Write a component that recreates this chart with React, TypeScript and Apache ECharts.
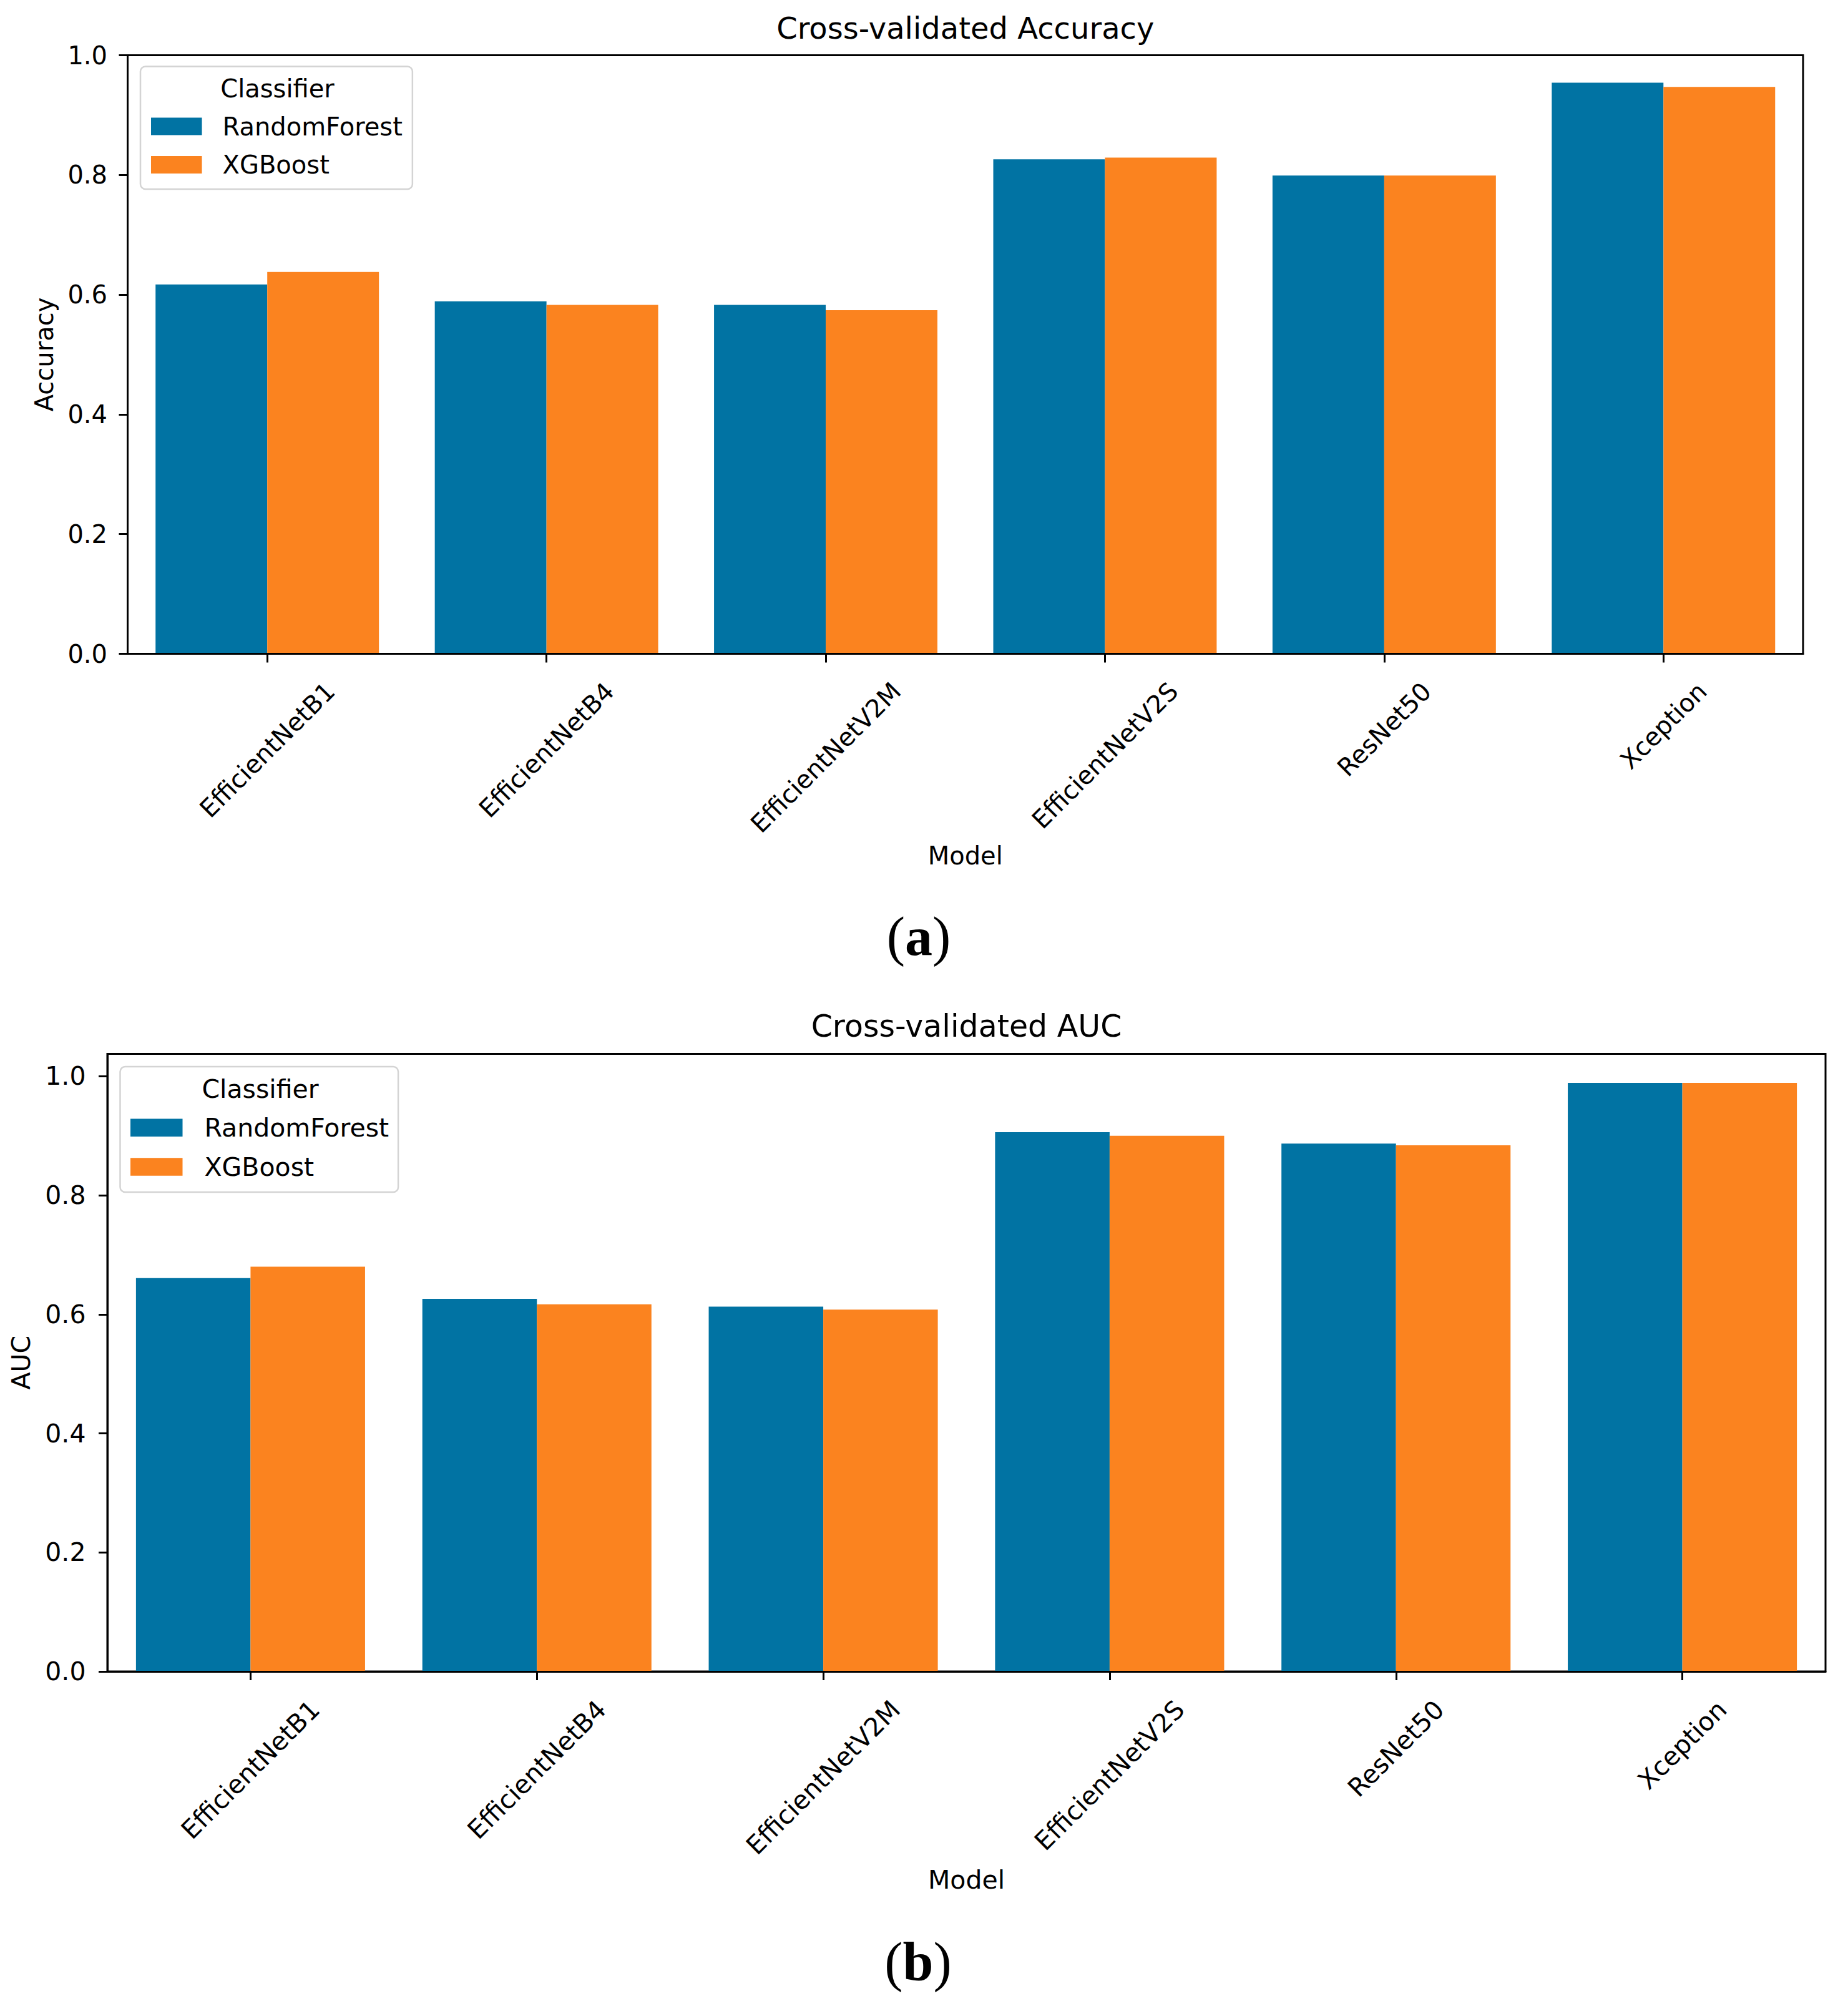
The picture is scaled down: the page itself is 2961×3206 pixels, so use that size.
import React, { useEffect, useRef } from "react";
import * as echarts from "echarts";

// ---------- data ----------
const models = [
  "EfficientNetB1",
  "EfficientNetB4",
  "EfficientNetV2M",
  "EfficientNetV2S",
  "ResNet50",
  "Xception",
];
const classifiers = ["RandomForest", "XGBoost"];
const accuracyRF = [0.617, 0.589, 0.583, 0.826, 0.799, 0.954];
const accuracyXGB = [0.638, 0.583, 0.574, 0.829, 0.799, 0.947];
const aucRF = [0.661, 0.626, 0.613, 0.906, 0.887, 0.989];
const aucXGB = [0.68, 0.617, 0.608, 0.9, 0.884, 0.989];
const yTicks = [0, 0.2, 0.4, 0.6, 0.8, 1.0];
const accuracyMax = 1.0;
const aucMax = 1.0377;

// ---------- style ----------
const BLUE = "#0173a3";
const ORANGE = "#fb831f";
const FONT = "DejaVu Sans";
const SERIF = "Liberation Serif";
const INK = "#000000";

let measureCtx: CanvasRenderingContext2D | null = null;
function textWidth(s: string, size: number) {
  if (!measureCtx) measureCtx = document.createElement("canvas").getContext("2d");
  if (!measureCtx) return s.length * size * 0.6;
  measureCtx.font = `${size}px "${FONT}"`;
  return measureCtx.measureText(s).width;
}

type Panel = {
  title: string;
  yName: string;
  rf: number[];
  xgb: number[];
  yMax: number;
  left: number;
  top: number;
  right: number;
  bottom: number;
  font: number;
  titleFont: number;
  titleY: number;
  xNameGap: number;
  yNameGap: number;
  yLabelMargin: number;
  xLabelMargin: number;
  legend: {
    left: number;
    top: number;
    itemW: number;
    itemH: number;
    gap: number;
    padding: number[];
    textPad: number;
    titleX: number;
    titleY: number;
  };
  tag: string;
  tagX: number;
  tagY: number;
};

const panels: Panel[] = [
  {
    title: "Cross-validated Accuracy",
    yName: "Accuracy",
    rf: accuracyRF,
    xgb: accuracyXGB,
    yMax: accuracyMax,
    left: 204.5,
    top: 88.5,
    right: 2889,
    bottom: 1047.5,
    font: 40,
    titleFont: 48,
    titleY: 45,
    xNameGap: 323.5,
    yNameGap: 134,
    yLabelMargin: 32.5,
    xLabelMargin: 53,
    legend: {
      left: 225,
      top: 106.5,
      itemW: 81.5,
      itemH: 28,
      gap: 21.5,
      padding: [76, 16, 19, 17],
      textPad: 28,
      titleX: 444.5,
      titleY: 141.5,
    },
    tag: "a",
    tagX: 1472,
    tagY: 1500,
  },
  {
    title: "Cross-validated AUC",
    yName: "AUC",
    rf: aucRF,
    xgb: aucXGB,
    yMax: aucMax,
    left: 172,
    top: 1688.5,
    right: 2925,
    bottom: 2678,
    font: 41,
    titleFont: 49,
    titleY: 1644,
    xNameGap: 334,
    yNameGap: 138,
    yLabelMargin: 34.5,
    xLabelMargin: 54,
    legend: {
      left: 192.5,
      top: 1709,
      itemW: 83.5,
      itemH: 28.5,
      gap: 21.75,
      padding: [77.25, 15, 20, 16.5],
      textPad: 30,
      titleX: 417,
      titleY: 1745,
    },
    tag: "b",
    tagX: 1471,
    tagY: 3143,
  },
];

function buildOption() {
  const grid: any[] = [];
  const xAxis: any[] = [];
  const yAxis: any[] = [];
  const series: any[] = [];
  const legend: any[] = [];
  const graphic: any[] = [];

  panels.forEach((p, i) => {
    grid.push({
      left: p.left,
      top: p.top,
      width: p.right - p.left,
      height: p.bottom - p.top,
      show: true,
      borderColor: INK,
      borderWidth: 3,
      backgroundColor: "#ffffff",
      containLabel: false,
      outerBoundsMode: "none",
    });

    xAxis.push({
      type: "category",
      gridIndex: i,
      z: 5,
      // Rotated labels centred under their tick (matplotlib style):
      // shift back along the text by w/4 and down across it by w/4.
      data: models.map((m) => {
        const w = textWidth(m, p.font);
        return {
          value: m,
          textStyle: {
            align: "center",
            verticalAlign: "top",
            lineHeight: w / 2,
            padding: [0, w / 2, 0, 0],
          },
        };
      }),
      boundaryGap: true,
      name: "Model",
      nameLocation: "middle",
      nameGap: p.xNameGap,
      nameMoveOverlap: false,
      nameTextStyle: {
        fontFamily: FONT,
        fontSize: p.font,
        color: INK,
        verticalAlign: "middle",
      },
      axisLine: { show: true, lineStyle: { color: INK, width: 3 } },
      axisTick: {
        show: true,
        alignWithLabel: true,
        length: 14,
        lineStyle: { color: INK, width: 3 },
      },
      axisLabel: {
        interval: 0,
        rotate: 45,
        align: "center",
        verticalAlign: "top",
        margin: p.xLabelMargin,
        fontFamily: FONT,
        fontSize: p.font,
        color: INK,
        hideOverlap: false,
      },
      splitLine: { show: false },
    });

    yAxis.push({
      type: "value",
      gridIndex: i,
      min: 0,
      max: p.yMax,
      interval: 0.2,
      z: 5,
      name: p.yName,
      nameLocation: "middle",
      nameGap: p.yNameGap,
      nameRotate: 90,
      nameMoveOverlap: false,
      nameTextStyle: {
        fontFamily: FONT,
        fontSize: p.font,
        color: INK,
        verticalAlign: "middle",
        align: "center",
      },
      axisLine: { show: true, lineStyle: { color: INK, width: 3 } },
      axisTick: {
        show: true,
        length: 14,
        lineStyle: { color: INK, width: 3 },
        customValues: yTicks,
      },
      axisLabel: {
        margin: p.yLabelMargin,
        fontFamily: FONT,
        fontSize: p.font,
        color: INK,
        customValues: yTicks,
        formatter: (v: number) => v.toFixed(1),
        showMaxLabel: true,
        showMinLabel: true,
      },
      splitLine: { show: false },
    });

    const vals = [p.rf, p.xgb];
    const colors = [BLUE, ORANGE];
    classifiers.forEach((c, k) => {
      series.push({
        type: "bar",
        name: c,
        xAxisIndex: i,
        yAxisIndex: i,
        data: vals[k],
        barGap: "0%",
        barCategoryGap: "20%",
        itemStyle: { color: colors[k] },
        emphasis: { disabled: true },
        z: 2,
      });
    });

    legend.push({
      show: true,
      orient: "vertical",
      left: p.legend.left,
      top: p.legend.top,
      itemWidth: p.legend.itemW,
      itemHeight: p.legend.itemH,
      itemGap: p.legend.gap,
      padding: p.legend.padding,
      icon: "rect",
      selectedMode: false,
      data: classifiers,
      backgroundColor: "rgba(255,255,255,0.8)",
      borderColor: "#d4d4d4",
      borderWidth: 2.5,
      borderRadius: 8,
      itemStyle: { borderWidth: 0 },
      textStyle: {
        fontFamily: FONT,
        fontSize: p.font,
        lineHeight: p.font,
        color: INK,
        padding: [0, 0, 0, p.legend.textPad],
      },
      z: 10,
    });

    graphic.push({
      type: "text",
      x: (p.left + p.right) / 2,
      y: p.titleY,
      style: {
        text: p.title,
        fontFamily: FONT,
        fontSize: p.titleFont,
        fill: INK,
        align: "center",
        verticalAlign: "middle",
      },
    });
    graphic.push({
      type: "text",
      x: p.legend.titleX,
      y: p.legend.titleY,
      z: 20,
      style: {
        text: "Classifier",
        fontFamily: FONT,
        fontSize: p.font,
        fill: INK,
        align: "center",
        verticalAlign: "middle",
      },
    });
    graphic.push({
      type: "text",
      x: p.tagX,
      y: p.tagY,
      style: {
        text: `{n|(}{b|${p.tag}}{n|)}`,
        align: "center",
        verticalAlign: "middle",
        fill: INK,
        rich: {
          n: { fontFamily: SERIF, fontSize: 88, fill: INK },
          b: { fontFamily: SERIF, fontSize: 88, fontWeight: "bold", fill: INK },
        },
      },
    });
  });

  return {
    animation: false,
    backgroundColor: "#ffffff",
    textStyle: { fontFamily: FONT },
    tooltip: { show: false },
    grid,
    xAxis,
    yAxis,
    series,
    legend,
    graphic,
  };
}

export default function App() {
  const ref = useRef<HTMLDivElement>(null);
  useEffect(() => {
    if (!ref.current) return;
    const chart = echarts.init(ref.current, undefined, { renderer: "svg" });
    chart.setOption(buildOption() as any);
    return () => chart.dispose();
  }, []);
  return (
    <div
      ref={ref}
      style={{
        position: "absolute",
        left: 0,
        top: 0,
        width: 2961,
        height: 3206,
        background: "#ffffff",
      }}
    />
  );
}
